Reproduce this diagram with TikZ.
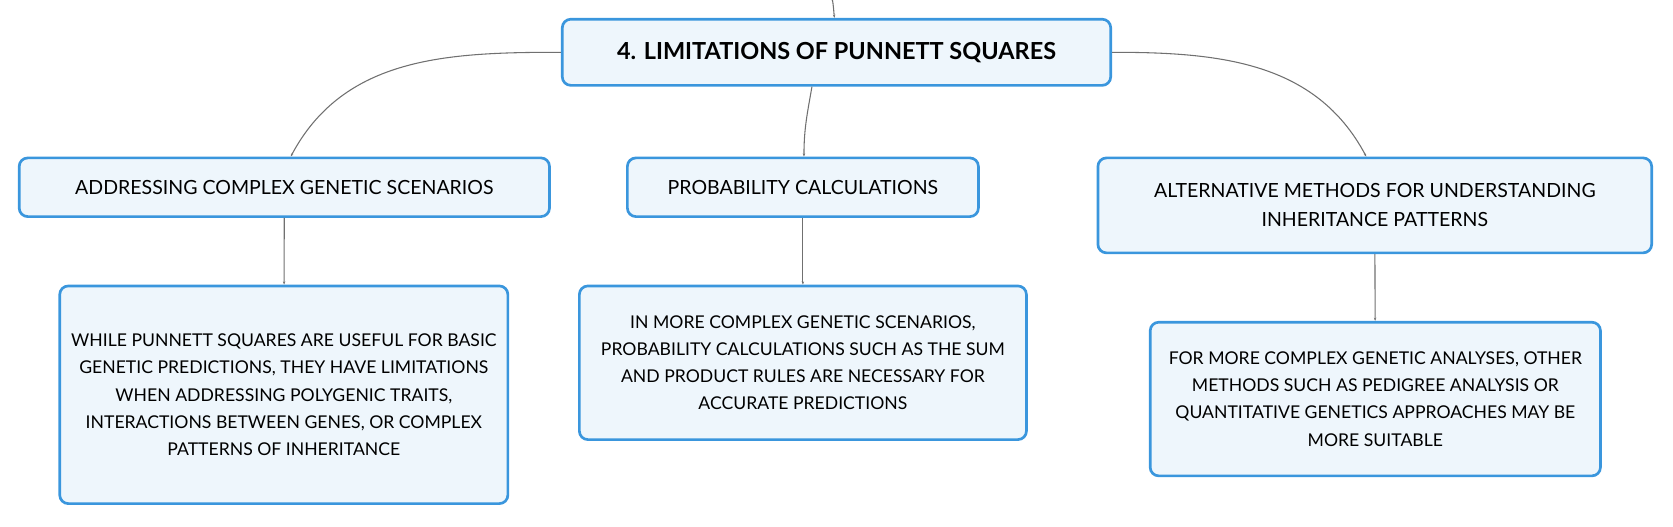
\documentclass[tikz,border=0pt]{standalone}
\usepackage{fontspec}
\setmainfont{Lato}
\usetikzlibrary{arrows.meta,calc}
\definecolor{rand}{HTML}{3A96DD}
\definecolor{fuell}{HTML}{EEF6FC}
\definecolor{linie}{HTML}{707070}
\begin{document}
\begin{tikzpicture}[x=1pt,y=-1pt,>={Stealth[scale=.4]},
  box/.style={draw=rand,fill=fuell,line width=2.5pt,rounded corners=8pt,align=center,inner sep=0pt,
    font=\fontsize{16.5}{25.5}\selectfont},
  kopf/.style={box,font=\fontsize{18.3}{27}\selectfont},
  kante/.style={draw=linie,line width=1pt}]
  \useasboundingbox (0,0) rectangle (1568,493);
  % Wurzel
  \node[box,minimum width=514pt,minimum height=62pt,font=\fontsize{22}{26}\selectfont\bfseries] (wurzel) at (784,49) {4. LIMITATIONS OF PUNNETT SQUARES};
  \coordinate (oben) at (779,0);
  % Zweige
  \node[kopf,minimum width=497pt,minimum height=55pt] (scen) at (266.5,175.5) {ADDRESSING COMPLEX GENETIC SCENARIOS};
  \node[kopf,minimum width=329pt,minimum height=55pt] (prob) at (752.5,175.5) {PROBABILITY CALCULATIONS};
  \node[kopf,minimum width=519pt,minimum height=89pt] (alt) at (1288.5,192.5) {ALTERNATIVE METHODS FOR UNDERSTANDING\\INHERITANCE PATTERNS};
  % Blaetter
  \node[box,minimum width=420pt,minimum height=204pt] (scentxt) at (266,370) {WHILE PUNNETT SQUARES ARE USEFUL FOR BASIC\\GENETIC PREDICTIONS, THEY HAVE LIMITATIONS\\WHEN ADDRESSING POLYGENIC TRAITS,\\INTERACTIONS BETWEEN GENES, OR COMPLEX\\PATTERNS OF INHERITANCE};
  \node[box,minimum width=419pt,minimum height=144pt] (probtxt) at (752.5,340) {IN MORE COMPLEX GENETIC SCENARIOS,\\PROBABILITY CALCULATIONS SUCH AS THE SUM\\AND PRODUCT RULES ARE NECESSARY FOR\\ACCURATE PREDICTIONS};
  \node[box,minimum width=422pt,minimum height=144pt] (alttxt) at (1289,374) {FOR MORE COMPLEX GENETIC ANALYSES, OTHER\\METHODS SUCH AS PEDIGREE ANALYSIS OR\\QUANTITATIVE GENETICS APPROACHES MAY BE\\MORE SUITABLE};
  % Verbindungen
  \draw[kante,->] (oben) to[out=80,in=95] ($(wurzel.north)+(-2,0)$);
  \draw[kante,->] (wurzel.west) to[out=180,in=62] ($(scen.north)+(6,0)$);
  \draw[kante,->] ($(wurzel.south)+(-23,0)$) to[out=-100,in=90] ($(prob.north)+(1,0)$);
  \draw[kante,->] (wurzel.east) to[out=0,in=118] ($(alt.north)+(-8,0)$);
  \draw[kante,->] (scen) -- (scentxt);
  \draw[kante,->] (prob) -- (probtxt);
  \draw[kante,->] (alt) -- (alttxt);
\end{tikzpicture}
\end{document}
